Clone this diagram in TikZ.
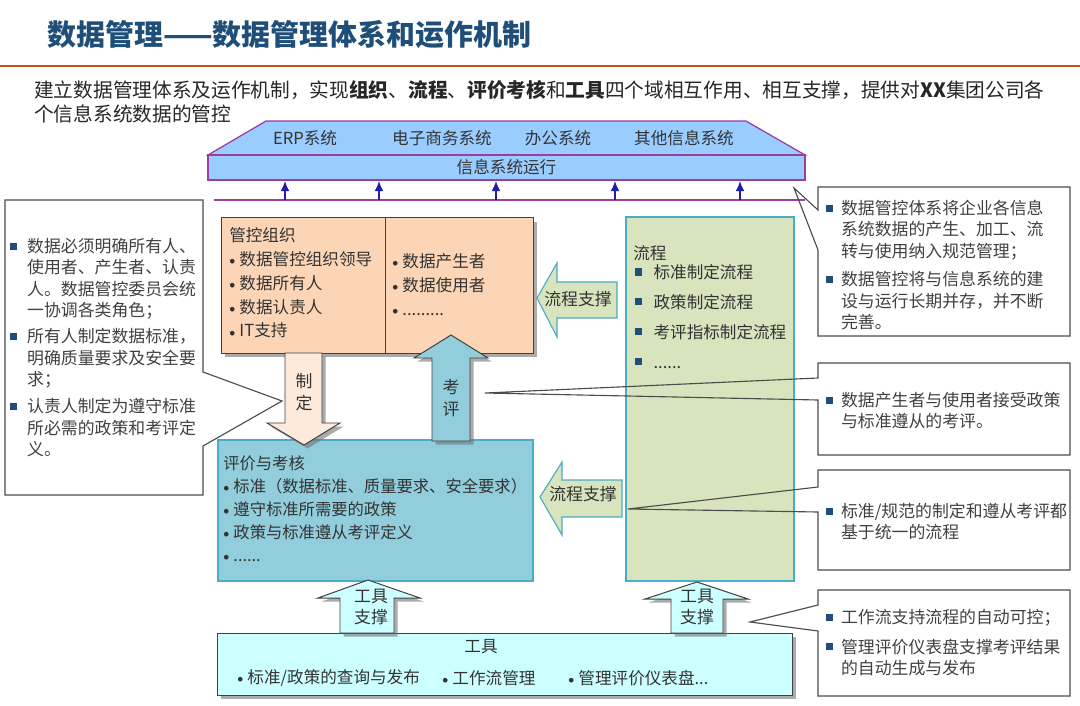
\documentclass[tikz,border=0pt]{standalone}
\usepackage{fontspec}
\setmainfont{Noto Sans CJK SC}
\usepackage{tikz}
\usetikzlibrary{arrows.meta,shadows}

\definecolor{titleblue}{HTML}{1F4E79}
\definecolor{rulered}{HTML}{C9501C}
\definecolor{sysfill}{HTML}{99CCFF}
\definecolor{sysedge}{HTML}{9E3D9E}
\definecolor{busblue}{HTML}{1F1FA8}
\definecolor{orgfill}{HTML}{FBD5B5}
\definecolor{setfill}{HTML}{FDEADA}
\definecolor{evalfill}{HTML}{92CDDC}
\definecolor{evaledge}{HTML}{4BACC6}
\definecolor{flowfill}{HTML}{D7E4BD}
\definecolor{toolfill}{HTML}{CCFFFF}
\definecolor{ink}{HTML}{333333}
\definecolor{sqblue}{HTML}{1F4E79}

\newcommand{\dotitem}{\raisebox{0.6pt}{\fontsize{8}{8}\selectfont$\bullet$}\hspace{3pt}}
\newcommand{\sqitem}{\textcolor{sqblue}{\rule[2pt]{5pt}{5pt}}}

\begin{document}
\begin{tikzpicture}[
x=0.025cm, y=-0.025cm,
every node/.style={inner sep=0pt, text=ink},
txt/.style={anchor=north west, align=left, font=\fontsize{11.8}{17}\selectfont},
note/.style={draw=black!70, line width=0.8pt},
notetext/.style={anchor=north west, text=black!75, font=\fontsize{12}{15.3}\selectfont},
sysbox/.style={draw=sysedge, fill=sysfill, line width=0.9pt},
sysname/.style={font=\fontsize{11.8}{14}\selectfont},
busarrow/.style={-{Latex[length=2.6mm,width=2.2mm]}, line width=1.7pt, draw=busblue},
shade/.style={drop shadow={shadow xshift=2.5pt, shadow yshift=-2.5pt, fill=black!55, opacity=0.6}},
darkbox/.style={draw=black!75, line width=0.7pt, shade},
flowarrow/.style={draw=evaledge, fill=flowfill, line width=0.8pt},
arrowtext/.style={align=center, font=\fontsize{12}{15.5}\selectfont}
]
\useasboundingbox (0,0) rectangle (1080,705);

% title and introduction
\node[anchor=west, text=titleblue, font=\fontsize{20.6}{24}\selectfont\bfseries] (title) at (47,35) {数据管理——数据管理体系和运作机制};
\draw[rulered, line width=2pt] (0,66) -- (1080,66);
\node[anchor=north west, align=left, text=black!85, font=\fontsize{14}{17}\selectfont] (intro) at (34,80)
  {建立数据管理体系及运作机制，实现{\bfseries 组织}、{\bfseries 流程}、{\bfseries 评价考核}和{\bfseries 工具}四个域相互作用、相互支撑，提供对{\bfseries XX}集团公司各\\个信息系统数据的管控};

% information systems
\draw[sysbox] (208,155) -- (266,121) -- (746,121) -- (805,155) -- cycle;
\node[sysbox, sysname, minimum width=14.925cm, minimum height=0.625cm] (sysrun) at (506.5,167.5) {信息系统运行};
\node[sysname] (erp) at (305,138) {ERP系统};
\node[sysname] (eshop) at (442,138) {电子商务系统};
\node[sysname] (office) at (558,138) {办公系统};
\node[sysname] (other) at (684,138) {其他信息系统};

\coordinate (busL) at (214,200);
\coordinate (busR) at (805,200);
\draw[sysedge, line width=1pt] (busL) -- (busR);
\foreach \x in {285,379,496,615,740}
  \draw[busarrow] (busL -| \x,0) -- (sysrun.south -| \x,0);

% organisation
\node[darkbox, fill=orgfill, minimum width=7.775cm, minimum height=3.375cm] (org) at (377.5,285.5) {};
\draw[black!75, line width=0.7pt] (org.north -| 385,0) -- (org.south -| 385,0);
\node[txt] (orglead) at (229,227) {管控组织\\\dotitem 数据管控组织领导\\\dotitem 数据所有人\\\dotitem 数据认责人\\\dotitem IT支持};
\node[txt] (orgrole) at (392,253) {\dotitem 数据产生者\\\dotitem 数据使用者\\\dotitem .........};

% process
\node[draw=evaledge, fill=flowfill, line width=0.8pt, minimum width=4.2cm, minimum height=9.1cm] (flow) at (710,399) {};
\node[txt] (flowhead) at (633,245) {流程};
\node[txt, font=\fontsize{11.8}{21.3}\selectfont] (flowitems) at (635,264)
  {\sqitem\hspace{8pt}标准制定流程\\\sqitem\hspace{8pt}政策制定流程\\\sqitem\hspace{8pt}考评指标制定流程\\\sqitem\hspace{8pt}......};

% evaluation
\node[draw=evaledge, fill=evalfill, line width=0.8pt, minimum width=7.875cm, minimum height=3.525cm] (eval) at (375.5,510.5) {};
\node[txt, font=\fontsize{11.6}{16.4}\selectfont] (evaltext) at (223,455)
  {评价与考核\\\dotitem 标准（数据标准、质量要求、安全要求）\\\dotitem 遵守标准所需要的政策\\\dotitem 政策与标准遵从考评定义\\\dotitem ......};

% tools
\node[darkbox, fill=toolfill, minimum width=14.35cm, minimum height=1.55cm] (tools) at (505,664) {};
\node[sysname] (toolhead) at (481,647) {工具};
\node[sysname, anchor=west] (toolA) at (237,678) {\dotitem 标准/政策的查询与发布};
\node[sysname, anchor=west] (toolB) at (442,678) {\dotitem 工作流管理};
\node[sysname, anchor=west] (toolC) at (568,678) {\dotitem 管理评价仪表盘...};

% block arrows
\draw[darkbox, fill=setfill] (285,353) -- (322,353) -- (322,423) -- (340,423) -- (304,445) -- (267,423) -- (285,423) -- cycle;
\node[arrowtext] (setlbl) at (304,392) {制\\定};
\draw[darkbox, fill=evalfill] (432,441) -- (432,358) -- (414,358) -- (451,335) -- (488,358) -- (470,358) -- (470,441) -- cycle;
\node[arrowtext] (reviewlbl) at (451,398) {考\\评};
\draw[flowarrow] (617,282) -- (557,282) -- (557,263) -- (537,298) -- (557,337) -- (557,318) -- (617,318) -- cycle;
\node[arrowtext] (flowlblA) at (578,299) {流程支撑};
\draw[flowarrow] (622,480) -- (562,480) -- (562,462) -- (540,497) -- (562,535) -- (562,517) -- (622,517) -- cycle;
\node[arrowtext] (flowlblB) at (583,494) {流程支撑};
\draw[darkbox, fill=toolfill] (340,633) -- (340,598) -- (318,598) -- (368,580) -- (420,598) -- (394,598) -- (394,633) -- cycle;
\node[arrowtext] (toollblA) at (371,607) {工具\\支撑};
\draw[darkbox, fill=toolfill] (671,633) -- (671,599) -- (645,599) -- (697,582) -- (748,599) -- (723,599) -- (723,633) -- cycle;
\node[arrowtext] (toollblB) at (697,607) {工具\\支撑};

% callouts
\coordinate (tipSet) at (282,401);
\coordinate (tipSys) at (794,188);
\coordinate (tipEval) at (485,393);
\coordinate (tipFlow) at (628,509);
\coordinate (tipTool) at (750,622);

\draw[note] (5,200) -- (203,200) -- (203,372) -- (tipSet) -- (203,446) -- (203,495) -- (5,495) -- cycle;
\node[notetext] (noteroles) at (10,237) {\begin{tabular}{@{}l@{\hspace{7pt}}l@{}}
\sqitem & 数据必须明确所有人、\\
 & 使用者、产生者、认责\\
 & 人。数据管控委员会统\\
 & 一协调各类角色；\\[3pt]
\sqitem & 所有人制定数据标准，\\
 & 明确质量要求及安全要\\
 & 求；\\[4pt]
\sqitem & 认责人制定为遵守标准\\
 & 所必需的政策和考评定\\
 & 义。
\end{tabular}};

\draw[note] (818,187) -- (1070,187) -- (1070,336) -- (818,336) -- (818,250) -- (tipSys) -- (818,210) -- cycle;
\node[notetext] (notesys) at (826,199) {\begin{tabular}{@{}l@{\hspace{5.5pt}}l@{}}
\sqitem & 数据管控体系将企业各信息\\
 & 系统数据的产生、加工、流\\
 & 转与使用纳入规范管理；\\[5pt]
\sqitem & 数据管控将与信息系统的建\\
 & 设与运行长期并存，并不断\\
 & 完善。
\end{tabular}};

\draw[note] (818,363) -- (1070,363) -- (1070,455) -- (818,455) -- (818,400) -- (tipEval) -- (818,378) -- cycle;
\node[notetext] (noteeval) at (826,391) {\begin{tabular}{@{}l@{\hspace{5.5pt}}l@{}}
\sqitem & 数据产生者与使用者接受政策\\
 & 与标准遵从的考评。
\end{tabular}};

\draw[note] (818,470) -- (1070,470) -- (1070,570) -- (818,570) -- (818,512) -- (tipFlow) -- (818,487) -- cycle;
\node[notetext] (noteflow) at (826,502) {\begin{tabular}{@{}l@{\hspace{5.5pt}}l@{}}
\sqitem & 标准/规范的制定和遵从考评都\\
 & 基于统一的流程
\end{tabular}};

\draw[note] (818,590) -- (1070,590) -- (1070,696) -- (818,696) -- (818,631) -- (tipTool) -- (818,605) -- cycle;
\node[notetext] (notetool) at (826,608) {\begin{tabular}{@{}l@{\hspace{5.5pt}}l@{}}
\sqitem & 工作流支持流程的自动可控；\\[6pt]
\sqitem & 管理评价仪表盘支撑考评结果\\
 & 的自动生成与发布
\end{tabular}};
\end{tikzpicture}
\end{document}
